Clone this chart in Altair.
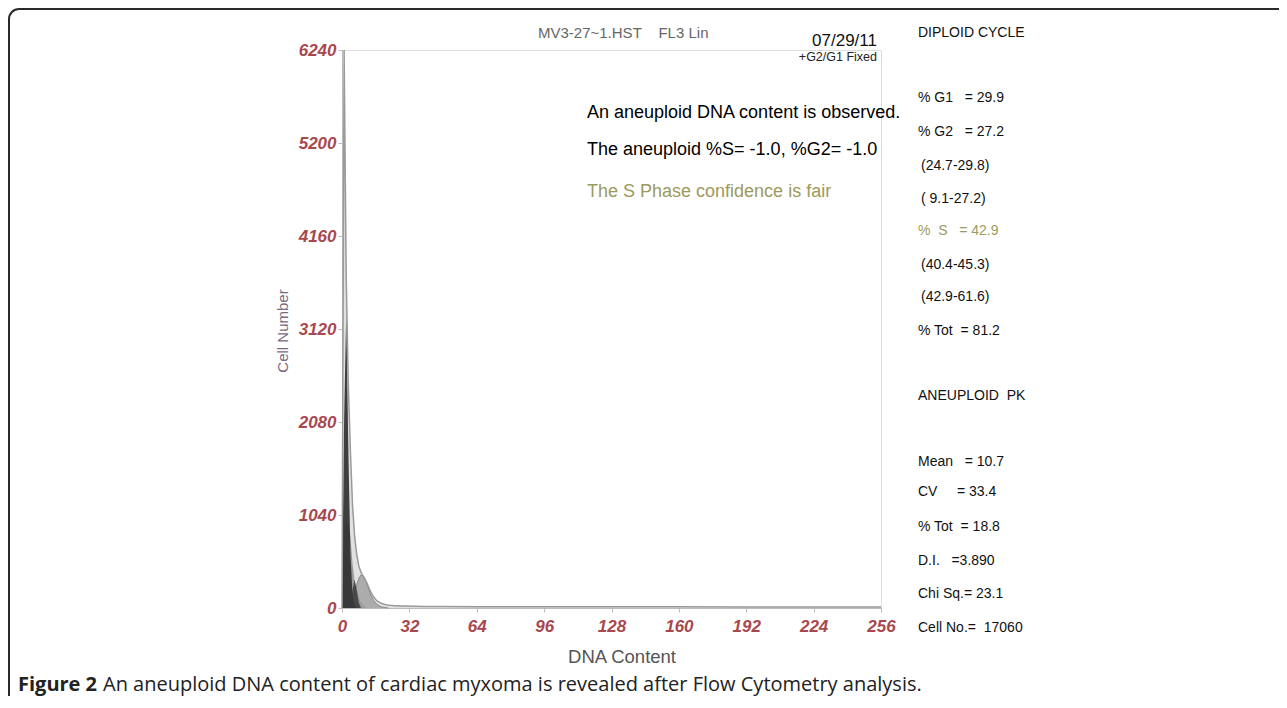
import altair as alt
import pandas as pd

# ---------------- data ----------------
channels = [0, 1, 2, 3, 4, 5, 6, 7, 8, 9, 10, 11, 12, 13, 14, 15, 16, 17, 18, 19, 20,
            21, 22, 23, 24, 25, 26, 28, 30, 34, 40, 48, 64, 96, 128, 160, 192, 224, 256]
raw_counts = [0, 6240, 3700, 2500, 1750, 1150, 800, 600, 470, 400, 360, 320, 270, 215, 165,
              125, 95, 75, 60, 50, 42, 37, 33, 30, 28, 26, 25, 23, 21, 19, 18, 16, 15, 14,
              13, 13, 12, 12, 12]

g1_ch = [0, 1, 2, 3, 4, 5, 6, 7]
g1_fit = [0, 2100, 3300, 1800, 600, 150, 30, 0]

s_ch = [0, 1, 2, 3, 4, 5, 6, 7, 8, 9, 10, 11, 12]
s_fit = [0, 900, 1000, 950, 800, 500, 300, 200, 120, 60, 30, 10, 0]

g2_ch = [4, 5, 6, 7, 8, 9]
g2_fit = [0, 200, 320, 200, 60, 0]

an_ch = [4, 5, 6, 7, 8, 9, 10, 11, 12, 13, 14, 15, 16, 17, 18, 19, 20, 22]
an_fit = [0, 80, 170, 260, 330, 370, 360, 320, 260, 190, 130, 85, 55, 35, 20, 12, 6, 0]

x_ticks = [0, 32, 64, 96, 128, 160, 192, 224, 256]
y_ticks = [0, 1040, 2080, 3120, 4160, 5200, 6240]

title_txt = "MV3-27~1.HST\u00a0\u00a0\u00a0\u00a0FL3 Lin"
date_txt = "07/29/11"
fixed_txt = "+G2/G1 Fixed"
notes = ["An aneuploid DNA content is observed.",
         "The aneuploid %S= -1.0, %G2= -1.0",
         "The S Phase confidence is fair"]
diploid_lines = ["DIPLOID CYCLE",
                 "% G1\u00a0\u00a0\u00a0= 29.9",
                 "% G2\u00a0\u00a0\u00a0= 27.2",
                 "(24.7-29.8)",
                 "( 9.1-27.2)",
                 "%\u00a0\u00a0S\u00a0\u00a0\u00a0= 42.9",
                 "(40.4-45.3)",
                 "(42.9-61.6)",
                 "% Tot\u00a0\u00a0= 81.2"]
aneu_lines = ["ANEUPLOID\u00a0\u00a0PK",
              "Mean\u00a0\u00a0\u00a0= 10.7",
              "CV\u00a0\u00a0\u00a0\u00a0\u00a0= 33.4",
              "% Tot\u00a0\u00a0= 18.8",
              "D.I.\u00a0\u00a0\u00a0=3.890",
              "Chi Sq.= 23.1",
              "Cell No.=\u00a0\u00a017060"]
caption_bold = "Figure 2"
caption_rest = "An aneuploid DNA content of cardiac myxoma is revealed after Flow Cytometry analysis."

# ---------------- layout ----------------
OX, OY = 342, 50          # page position of plot area
W, H = 539, 558
PAD_L, PAD_T = OX - 8, OY - 8
PAD_R = 1271 - (PAD_L + W)
PAD_B = 688 - (PAD_T + H)

xs = alt.Scale(domain=[0, 256], nice=False, zero=False)
ys = alt.Scale(domain=[0, 6240], nice=False)
lab_col = "#a8484e"

xaxis = alt.Axis(values=x_ticks, title=None, format="d", labelFont="Liberation Sans",
                 labelFontSize=17, labelFontStyle="italic", labelFontWeight="bold",
                 labelColor=lab_col, labelFlush=False, labelOverlap=False,
                 domainColor="#bbbbbb", tickColor="#bbbbbb", tickSize=4, labelPadding=6,
                 grid=False)
yaxis = alt.Axis(values=y_ticks, title=None, format="d", labelFont="Liberation Sans",
                 labelFontSize=17, labelFontStyle="italic", labelFontWeight="bold",
                 labelColor=lab_col, labelFlush=False, labelOverlap=False,
                 domainColor="#bbbbbb", tickColor="#bbbbbb", tickSize=4, labelPadding=2,
                 grid=False)


def series(ch, vals):
    return pd.DataFrame({"ch": ch, "n": vals})


def enc(chart):
    return chart.encode(x=alt.X("ch:Q", scale=xs, axis=xaxis),
                        y=alt.Y("n:Q", scale=ys, axis=yaxis))


raw_df = series(channels, raw_counts)
raw_area = enc(alt.Chart(raw_df).mark_area(color="#c8c8c8", opacity=0.55))
raw_line = enc(alt.Chart(raw_df).mark_line(color="#9a9a9a", strokeWidth=1.5))
s_area = enc(alt.Chart(series(s_ch, s_fit)).mark_area(color="#8a8a8a", opacity=0.8))
an_area = enc(alt.Chart(series(an_ch, an_fit)).mark_area(
    color="#9a9a9a", opacity=0.75, line={"color": "#777777", "strokeWidth": 0.8}))
g1_area = enc(alt.Chart(series(g1_ch, g1_fit)).mark_area(color="#2e2e2e", opacity=0.9))
g2_area = enc(alt.Chart(series(g2_ch, g2_fit)).mark_area(color="#3a3a3a", opacity=0.85))

one = pd.DataFrame({"k": [0]})


def label(txt, px, py, size, color="#000000", font="Liberation Sans", weight="normal",
          align="left", angle=0):
    return alt.Chart(one).mark_text(text=txt, font=font, fontSize=size, color=color,
                                    fontWeight=weight, align=align, baseline="middle",
                                    angle=angle).encode(
        x=alt.value(px - OX), y=alt.value(py - OY))


texts = [
    label(title_txt, 538, 33, 15, "#666666"),
    label(date_txt, 877, 41, 17, "#111111", align="right"),
    label(fixed_txt, 877, 57, 12.5, "#222222", align="right"),
    label(notes[0], 587, 113, 18),
    label(notes[1], 587, 150, 18),
    label(notes[2], 587, 192, 18, "#9c9a5c"),
    label("Cell Number", 283, 331, 15, "#7a6a82", angle=270, align="center"),
    label("DNA Content", 622, 657, 18.5, "#555555", align="center"),
    label(caption_bold, 18, 685, 20, "#222222", font="Open Sans", weight="bold"),
    label(caption_rest, 103, 685, 20, "#222222", font="Open Sans"),
]
d_y = [33, 98, 132, 166, 199, 231, 265, 297, 331]
d_x = [918, 918, 918, 921, 921, 918, 921, 921, 918]
for t, yy, xx in zip(diploid_lines, d_y, d_x):
    col = "#9c9a5c" if t.startswith("%\u00a0\u00a0S") else "#111111"
    texts.append(label(t, xx, yy, 14, col))
a_y = [396, 462, 492, 527, 561, 594, 628]
for t, yy in zip(aneu_lines, a_y):
    texts.append(label(t, 918, yy, 14, "#111111"))

frame = alt.Chart(one).mark_rect(filled=False, stroke="#2a2a2a", strokeWidth=2,
                                 cornerRadius=10).encode(
    x=alt.value(9 - OX), x2=alt.value(1320 - OX), y=alt.value(9 - OY), y2=alt.value(720 - OY))

chart = alt.layer(raw_area, s_area, an_area, g1_area, g2_area, raw_line, frame, *texts).properties(
    width=W, height=H,
    padding={"left": PAD_L, "top": PAD_T, "right": PAD_R, "bottom": PAD_B},
    autosize=alt.AutoSizeParams(type="none"),
).configure_view(stroke="#cccccc", strokeWidth=1).configure(background="#ffffff")

chart.save("out.html", embed_options={"renderer": "svg", "actions": False})
